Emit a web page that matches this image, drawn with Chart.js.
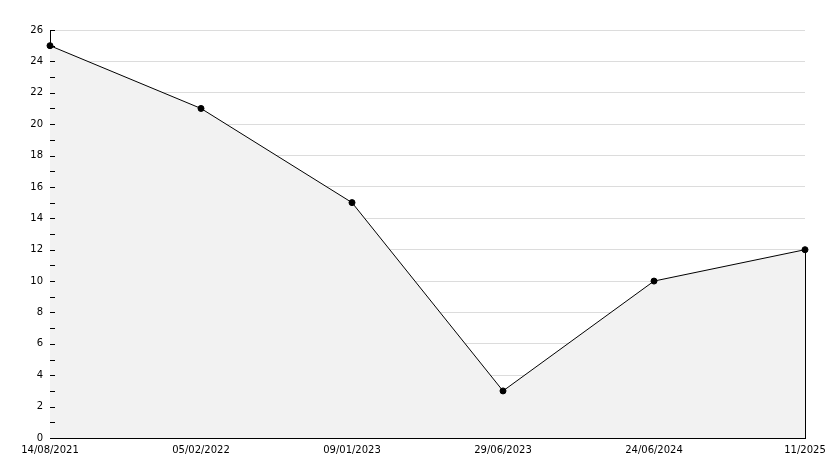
<!DOCTYPE html>
<html lang="en">
<head>
    <meta charset="UTF-8">
    <title>Chart</title>
    <script src="https://cdn.jsdelivr.net/npm/chart.js@4.4.1/dist/chart.umd.min.js"></script>
    <style>
        html, body { margin: 0; padding: 0; background: #fff; }
        #wrap { width: 834px; height: 468px; }
    </style>
</head>
<body>
    <div id="wrap"><canvas id="chart" width="834" height="468"></canvas></div>

    <script>
        // data
        var labels = ['14/08/2021', '05/02/2022', '09/01/2023', '29/06/2023', '24/06/2024', '11/2025'];
        var values = [25, 21, 15, 3, 10, 12];
        var yMin = 0;
        var yMax = 26;

        // small inward tick marks on the y axis (every unit) + right edge of the filled area
        var axisExtras = {
            id: 'axisExtras',
            afterDatasetsDraw: function(chart) {
                var ctx = chart.ctx;
                var x = chart.scales.x;
                var y = chart.scales.y;
                var left = chart.chartArea.left;
                ctx.save();
                ctx.strokeStyle = '#000';
                ctx.lineWidth = 1;
                for (var v = yMin; v <= yMax; v++) {
                    var py = Math.round(y.getPixelForValue(v)) + 0.5;
                    ctx.beginPath();
                    ctx.moveTo(left, py);
                    ctx.lineTo(left + 5, py);
                    ctx.stroke();
                }
                var last = values.length - 1;
                var ex = Math.round(x.getPixelForValue(last)) + 0.5;
                ctx.beginPath();
                ctx.moveTo(ex, y.getPixelForValue(values[last]));
                ctx.lineTo(ex, y.getPixelForValue(yMin));
                ctx.stroke();
                ctx.restore();
            }
        };

        Chart.defaults.font.family = 'DejaVu Sans';
        Chart.defaults.font.size = 10;
        Chart.defaults.color = '#000';

        new Chart(document.getElementById('chart'), {
            type: 'line',
            data: {
                labels: labels,
                datasets: [{
                    data: values,
                    borderColor: '#000',
                    borderWidth: 1,
                    backgroundColor: '#f2f2f2',
                    fill: 'origin',
                    tension: 0,
                    pointRadius: 3,
                    pointBackgroundColor: '#000',
                    pointBorderColor: '#000',
                    pointBorderWidth: 1
                }]
            },
            options: {
                responsive: false,
                animation: false,
                layout: { padding: { top: 30, right: 29, left: 0, bottom: 0 } },
                plugins: {
                    legend: { display: false },
                    tooltip: { enabled: false }
                },
                scales: {
                    x: {
                        offset: false,
                        grid: { display: false, drawTicks: false },
                        border: { display: true, color: '#000', width: 1 },
                        ticks: { maxRotation: 0, autoSkip: false, padding: 6 },
                        afterFit: function(scale) { scale.height = 30; }
                    },
                    y: {
                        min: yMin,
                        max: yMax,
                        grid: {
                            drawTicks: false,
                            color: function(c) {
                                return c.tick && c.tick.value % 2 === 0 && c.tick.value !== 0 ? '#dcdcdc' : 'rgba(0,0,0,0)';
                            }
                        },
                        border: { display: true, color: '#000', width: 1 },
                        ticks: {
                            stepSize: 2,
                            padding: 7
                        },
                        afterFit: function(scale) { scale.width = 50; }
                    }
                }
            },
            plugins: [axisExtras]
        });
    </script>
</body>
</html>
